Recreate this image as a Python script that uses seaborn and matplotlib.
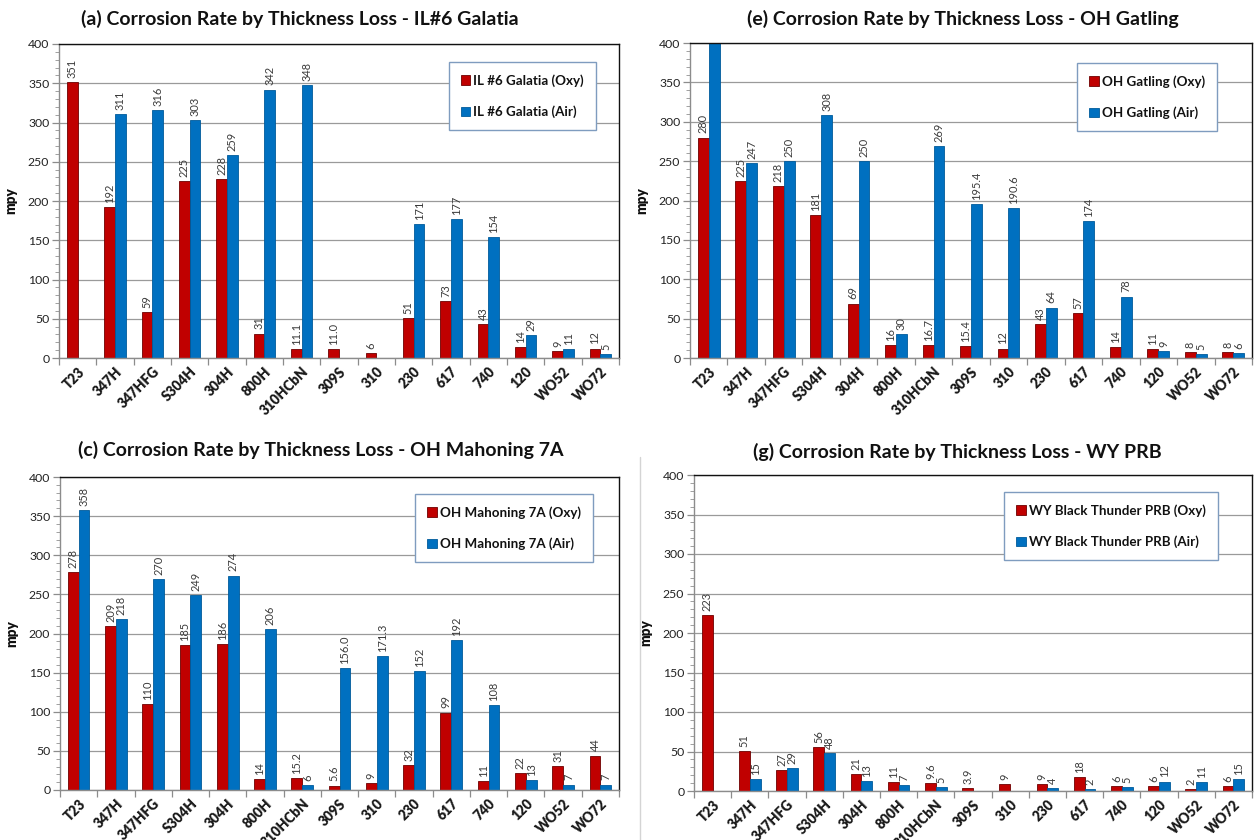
import numpy as np
import pandas as pd
import matplotlib
matplotlib.use("Agg")
import matplotlib.pyplot as plt
from matplotlib.lines import Line2D
from matplotlib.ticker import MultipleLocator
import seaborn as sns

# Alloys tested (x categories)
alloys = ["T23", "347H", "347HFG", "S304H", "304H", "800H", "310HCbN", "309S",
          "310", "230", "617", "740", "120", "WO52", "WO72"]

# Corrosion rates in mpy; values kept as text so the printed label keeps its decimals.
# None = not tested.
galatia_oxy = ["351", "192", "59", "225", "228", "31", "11.1", "11.0", "6", "51", "73", "43", "14", "9", "12"]
galatia_air = [None, "311", "316", "303", "259", "342", "348", None, None, "171", "177", "154", "29", "11", "5"]

gatling_oxy = ["280", "225", "218", "181", "69", "16", "16.7", "15.4", "12", "43", "57", "14", "11", "8", "8"]
gatling_air = ["430", "247", "250", "308", "250", "30", "269", "195.4", "190.6", "64", "174", "78", "9", "5", "6"]

mahoning_oxy = ["278", "209", "110", "185", "186", "14", "15.2", "5.6", "9", "32", "99", "11", "22", "31", "44"]
mahoning_air = ["358", "218", "270", "249", "274", "206", "6", "156.0", "171.3", "152", "192", "108", "13", "7", "7"]

prb_oxy = ["223", "51", "27", "56", "21", "11", "9.6", "3.9", "9", "9", "18", "6", "6", "2", "6"]
prb_air = [None, "15", "29", "48", "13", "7", "5", None, None, "4", "2", "5", "12", "11", "15"]

panels = [
    ("(a) Corrosion Rate by Thickness Loss - IL#6 Galatia", "IL #6 Galatia", galatia_oxy, galatia_air),
    ("(e) Corrosion Rate by Thickness Loss - OH Gatling", "OH Gatling", gatling_oxy, gatling_air),
    ("(c) Corrosion Rate by Thickness Loss - OH Mahoning 7A", "OH Mahoning 7A", mahoning_oxy, mahoning_air),
    ("(g) Corrosion Rate by Thickness Loss - WY PRB", "WY Black Thunder PRB", prb_oxy, prb_air),
]

RED = "#C00000"
BLUE = "#0070C0"
FONT = ["Lato", "DejaVu Sans"]

sns.set_theme(style="white")
plt.rcParams["font.family"] = FONT

W, H = 1254, 840
fig = plt.figure(figsize=(W / 100, H / 100), dpi=100)
fig.patch.set_facecolor("white")

# axes rectangles in pixels: left, top, right, bottom
boxes = [(59, 44, 619, 358), (690, 43, 1252, 358), (60, 477, 619, 790), (694, 475, 1252, 791)]
titles_xy = [(300, 19), (963, 19), (321, 450), (957, 452)]
legend_anchor = [(596, 62), (1217, 63), (593, 494), (1218, 492)]

for (title, site, oxy, air), (l, t, r, b), (tx, ty), (lx, ly) in zip(panels, boxes, titles_xy, legend_anchor):
    ax = fig.add_axes([l / W, 1 - b / H, (r - l) / W, (b - t) / H])
    oxy_name = f"{site} (Oxy)"
    air_name = f"{site} (Air)"
    rows = []
    labels = {}
    for i, a in enumerate(alloys):
        for name, series in ((oxy_name, oxy), (air_name, air)):
            s = series[i]
            if s is None:
                continue
            rows.append({"alloy": a, "mpy": float(s), "gas": name})
            labels[(name, i)] = s
    df = pd.DataFrame(rows)

    sns.barplot(data=df, x="alloy", y="mpy", hue="gas", order=alloys,
                hue_order=[oxy_name, air_name], palette=[RED, BLUE],
                width=0.58, gap=0, saturation=1, errorbar=None,
                linewidth=0.6, edgecolor="#5a0000", ax=ax, legend=True)
    # edge colours per series
    for cont, ec in zip(ax.containers, ["#6e0000", "#005a9a"]):
        for bar in cont:
            bar.set_edgecolor(ec)

    ymax = 400
    ax.set_ylim(0, ymax)
    ax.set_xlim(-0.5, len(alloys) - 0.5)

    # value labels, rotated, above each bar
    for cont, name in zip(ax.containers, [oxy_name, air_name]):
        for bar in cont:
            h = bar.get_height()
            if not np.isfinite(h) or h >= ymax:
                continue
            cx = bar.get_x() + bar.get_width() / 2
            idx = int(round(cx))
            txt = labels.get((name, idx))
            if txt is None:
                continue
            ax.annotate(txt, (cx, h), xytext=(0, 3), textcoords="offset points",
                        rotation=90, ha="center", va="bottom", fontsize=7.9,
                        color="#3a3a3a", family=FONT)

    # grid and frame
    ax.set_axisbelow(True)
    ax.yaxis.set_major_locator(MultipleLocator(50))
    ax.yaxis.set_minor_locator(MultipleLocator(10))
    ax.grid(axis="y", which="major", color="#9a9a9a", linewidth=0.9)
    ax.grid(axis="x", visible=False)
    for side in ("top", "right"):
        ax.spines[side].set_color("#111111")
        ax.spines[side].set_linewidth(1.0)
    for side in ("left", "bottom"):
        ax.spines[side].set_color("#8c8c8c")
        ax.spines[side].set_linewidth(1.0)

    ax.tick_params(axis="y", which="major", direction="out", length=5, width=0.9,
                   color="#8c8c8c", labelsize=8.8, labelcolor="#222222", left=True, pad=2)
    ax.tick_params(axis="y", which="minor", direction="out", length=3, width=0.7,
                   color="#a0a0a0", left=True)
    # category ticks sit between the groups
    ax.set_xticks(np.arange(len(alloys)))
    ax.set_xticks(np.arange(-0.5, len(alloys), 1), minor=True)
    ax.tick_params(axis="x", which="major", length=0, pad=5)
    ax.tick_params(axis="x", which="minor", direction="out", length=5, width=0.9,
                   color="#8c8c8c", bottom=True)
    ax.set_xticklabels(alloys, rotation=45, ha="right", rotation_mode="anchor",
                       fontsize=9.8, fontweight="heavy", color="#1a1a1a")
    for lab in ax.get_yticklabels():
        lab.set_family(FONT)
    ax.set_xlabel("")
    ax.set_ylabel("mpy", fontsize=9.8, fontweight="heavy", color="#111111", labelpad=8)

    # legend box
    handles = [plt.Rectangle((0, 0), 1, 1, facecolor=RED, edgecolor="#6e0000", linewidth=0.6),
               plt.Rectangle((0, 0), 1, 1, facecolor=BLUE, edgecolor="#005a9a", linewidth=0.6)]
    ax.get_legend().remove()
    ax_w, ax_h = r - l, b - t
    leg = ax.legend(handles, [oxy_name, air_name], loc="upper right",
                    bbox_to_anchor=((lx - l) / ax_w, (b - ly) / ax_h),
                    frameon=True, fancybox=False, framealpha=1, edgecolor="#7f9cbf",
                    prop={"family": FONT, "weight": "bold", "size": 9.6},
                    handlelength=0.7, handleheight=0.7, handletextpad=0.25,
                    labelspacing=1.4, borderpad=0.9, borderaxespad=0)
    leg.get_frame().set_linewidth(1.0)
    for txt in leg.get_texts():
        txt.set_color("#111111")

    fig.text(tx / W, 1 - ty / H, title, ha="center", va="center",
             fontsize=14, fontweight="bold", color="#111111", family=FONT)

# thin divider between the lower charts
fig.add_artist(Line2D([640 / W, 640 / W], [0, 1 - 457 / H], color="#d4d4d4", linewidth=1.0))

fig.savefig("out.png", dpi=100, facecolor="white")
